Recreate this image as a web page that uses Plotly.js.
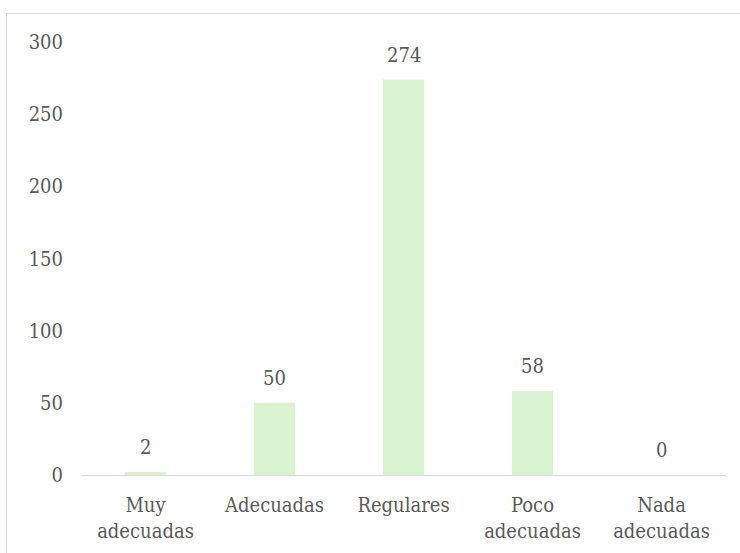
<!DOCTYPE html>
<html><head><meta charset="utf-8">
<script src="https://cdn.plot.ly/plotly-3.0.1.min.js"></script>
<style>
html,body{margin:0;padding:0;background:#fff;overflow:hidden;}
#frame{position:absolute;left:6px;top:13px;width:760px;height:600px;border:1px solid #d9d9d9;}
#chart{position:absolute;left:0;top:0;width:740px;height:553px;}
</style></head>
<body>
<div id="frame"></div>
<div id="chart"></div>
<script>
const categories = ["Muy<br>adecuadas", "Adecuadas", "Regulares", "Poco<br>adecuadas", "Nada<br>adecuadas"];
const values = [2, 50, 274, 58, 0];
const yTicks = [0, 50, 100, 150, 200, 250, 300];

const font = {family: "DejaVu Serif Condensed", size: 20, color: "#595959"};
const labels = categories.map((c, i) => ({
  x: c, y: values[i], xref: "x", yref: "y",
  text: String(values[i]), showarrow: false,
  yanchor: "bottom", yshift: 11, font: font
}));
Plotly.newPlot("chart", [{
  type: "bar",
  x: categories,
  y: values,
  marker: {color: "#d9f2d0"},
  hoverinfo: "none"
}], {
  width: 740, height: 553,
  margin: {l: 81, r: 14, t: 42, b: 78},
  paper_bgcolor: "rgba(0,0,0,0)",
  plot_bgcolor: "rgba(0,0,0,0)",
  font: font,
  bargap: 0.68,
  showlegend: false,
  annotations: labels,
  xaxis: {showline: true, linecolor: "#d9d9d9", linewidth: 1, ticks: "", tickfont: font, ticklabelstandoff: 12, showgrid: false, zeroline: false, fixedrange: true},
  yaxis: {range: [0, 300], tickvals: yTicks, showgrid: false, zeroline: false, showline: false, ticks: "outside", ticklen: 13, tickcolor: "rgba(0,0,0,0)", tickfont: font, fixedrange: true}
}, {displayModeBar: false, staticPlot: true});
</script>
</body></html>
